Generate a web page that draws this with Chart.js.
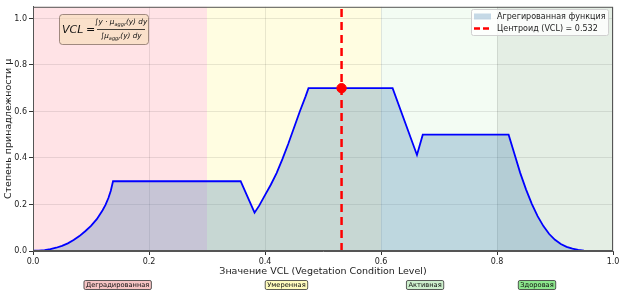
<!DOCTYPE html>
<html>
<head>
<meta charset="utf-8">
<script src="https://cdn.jsdelivr.net/npm/chart.js@4.4.2/dist/chart.umd.min.js"></script>
<style>
  html, body { margin: 0; padding: 0; background: #fff; }
  #wrap { width: 624px; height: 293px; }
</style>
</head>
<body>
<div id="wrap"><canvas id="chart" width="624" height="293"></canvas></div>
<script>
// aggregated membership function
const curveX = [0, 0.01, 0.02, 0.03, 0.04, 0.05, 0.06, 0.07, 0.08, 0.09, 0.10, 0.11, 0.12, 0.125, 0.13, 0.134, 0.138,
  0.358, 0.382, 0.39, 0.40, 0.41, 0.42, 0.43, 0.44, 0.45, 0.46, 0.47, 0.475,
  0.620, 0.662, 0.672, 0.820,
  0.83, 0.84, 0.85, 0.86, 0.87, 0.88, 0.89, 0.90, 0.91, 0.92, 0.93, 0.94, 0.95, 0.97, 1.0];
const curveY = [0.001, 0.002, 0.004, 0.008, 0.014, 0.022, 0.033, 0.047, 0.064, 0.085, 0.108, 0.137, 0.175, 0.198, 0.228, 0.258, 0.30,
  0.30, 0.165, 0.195, 0.24, 0.285, 0.335, 0.395, 0.46, 0.53, 0.60, 0.665, 0.70,
  0.70, 0.413, 0.50, 0.50,
  0.418, 0.336, 0.265, 0.203, 0.15, 0.107, 0.073, 0.048, 0.03, 0.018, 0.01, 0.005, 0.002, 0.0005, 0];

const centroid = 0.532;
const centroidMu = 0.70;

const zoneNames = ['Деградированная', 'Умеренная', 'Активная', 'Здоровая'];
const zoneEdges = [0, 0.3, 0.6, 0.8, 1.0];

const xTicks = [0, 0.2, 0.4, 0.6, 0.8, 1.0];
const yTicks = [0, 0.2, 0.4, 0.6, 0.8, 1.0];

const zoneFill = ['rgb(255,227,230)', 'rgb(255,253,225)', 'rgb(243,252,243)', 'rgb(228,238,228)'];
const zoneTag = ['rgb(246,196,196)', 'rgb(255,252,190)', 'rgb(205,240,205)', 'rgb(140,230,140)'];
const zoneTagX = [0.146, 0.437, 0.676, 0.869];

const FONT = '"DejaVu Sans", sans-serif';

const decorPlugin = {
  id: 'decor',
  beforeDraw(chart) {
    const { ctx, chartArea: a, scales: { x } } = chart;
    ctx.save();
    for (let i = 0; i < zoneNames.length; i++) {
      const x0 = x.getPixelForValue(zoneEdges[i]);
      const x1 = x.getPixelForValue(zoneEdges[i + 1]);
      ctx.fillStyle = zoneFill[i];
      ctx.fillRect(x0, a.top, x1 - x0, a.bottom - a.top);
    }
    ctx.restore();
  },
  afterDraw(chart) {
    const { ctx, chartArea: a, scales: { x } } = chart;
    ctx.save();

    // frame
    ctx.strokeStyle = '#555';
    ctx.lineWidth = 1;
    ctx.strokeRect(a.left + 0.5, a.top + 0.5, a.right - a.left - 1, a.bottom - a.top - 1);

    // formula box
    ctx.beginPath();
    ctx.roundRect(59.5, 14.5, 89, 30, 3);
    ctx.fillStyle = 'rgba(245,222,179,0.55)';
    ctx.fill();
    ctx.strokeStyle = 'rgba(120,100,90,0.7)';
    ctx.stroke();

    ctx.fillStyle = '#111';
    ctx.textBaseline = 'alphabetic';
    ctx.textAlign = 'left';
    ctx.font = 'italic 11px ' + FONT;
    ctx.fillText('VCL', 62, 33);
    ctx.font = '11px ' + FONT;
    ctx.fillText('=', 86, 33);

    const fontOf = p => (p.sub ? 'italic 5px ' : 'italic 7.3px ') + FONT;
    const runs = (parts, x0, y0) => {
      let cx = x0;
      parts.forEach(p => {
        ctx.font = fontOf(p);
        ctx.fillText(p.t, cx, p.sub ? y0 + 2 : y0);
        cx += ctx.measureText(p.t).width;
      });
    };
    const measure = parts => parts.reduce((s, p) => {
      ctx.font = fontOf(p);
      return s + ctx.measureText(p.t).width;
    }, 0);
    const num = [{ t: '∫y · μ' }, { t: 'aggr', sub: true }, { t: '(y) dy' }];
    const den = [{ t: '∫μ' }, { t: 'aggr', sub: true }, { t: '(y) dy' }];
    const fx0 = 97, fx1 = 145, fc = (fx0 + fx1) / 2;
    runs(num, fc - measure(num) / 2, 24);
    runs(den, fc - measure(den) / 2, 38);
    ctx.strokeStyle = '#111';
    ctx.lineWidth = 0.8;
    ctx.beginPath();
    ctx.moveTo(fx0, 29.5);
    ctx.lineTo(fx1, 29.5);
    ctx.stroke();

    // legend
    ctx.beginPath();
    ctx.roundRect(471.5, 9.5, 137, 26, 2);
    ctx.fillStyle = 'rgba(255,255,255,0.8)';
    ctx.fill();
    ctx.strokeStyle = '#d0d0d0';
    ctx.lineWidth = 1;
    ctx.stroke();
    ctx.fillStyle = 'rgba(70,130,180,0.3)';
    ctx.fillRect(474, 13.5, 17, 6);
    ctx.strokeStyle = 'red';
    ctx.lineWidth = 2.5;
    ctx.setLineDash([6, 3]);
    ctx.beginPath();
    ctx.moveTo(474, 28.5);
    ctx.lineTo(491, 28.5);
    ctx.stroke();
    ctx.setLineDash([]);
    ctx.fillStyle = '#222';
    ctx.font = '8px ' + FONT;
    ctx.textBaseline = 'middle';
    ctx.fillText('Агрегированная функция', 497, 17);
    ctx.fillText('Центроид (VCL) = ' + centroid.toFixed(3), 497, 28.5);

    // zone tags under the axis
    ctx.font = '6.7px ' + FONT;
    ctx.textAlign = 'center';
    zoneNames.forEach((name, i) => {
      const cx = x.getPixelForValue(zoneTagX[i]);
      const w = ctx.measureText(name).width + 4;
      ctx.beginPath();
      ctx.roundRect(cx - w / 2, 280.5, w, 9, 1.5);
      ctx.fillStyle = zoneTag[i];
      ctx.fill();
      ctx.strokeStyle = '#333';
      ctx.lineWidth = 0.8;
      ctx.stroke();
      ctx.fillStyle = '#111';
      ctx.fillText(name, cx, 285.2);
    });
    ctx.restore();
  }
};

const tickFont = { family: FONT, size: 8 };
const titleFont = { family: FONT, size: 9.5 };

new Chart(document.getElementById('chart'), {
  type: 'line',
  data: {
    datasets: [
      {
        label: 'point',
        data: [{ x: centroid, y: centroidMu }],
        showLine: false,
        pointRadius: 4.7,
        pointBackgroundColor: 'red',
        pointBorderColor: 'red'
      },
      {
        label: 'Центроид (VCL) = ' + centroid.toFixed(3),
        data: [{ x: centroid, y: 0 }, { x: centroid, y: 1.05 }],
        borderColor: 'red',
        borderWidth: 2.5,
        borderDash: [8, 5],
        pointRadius: 0,
        fill: false
      },
      {
        label: 'Агрегированная функция',
        data: curveX.map((v, i) => ({ x: v, y: curveY[i] })),
        borderColor: '#0000ff',
        borderWidth: 1.8,
        backgroundColor: 'rgba(70,130,180,0.3)',
        fill: 'origin',
        pointRadius: 0,
        tension: 0
      }
    ]
  },
  options: {
    responsive: false,
    animation: false,
    devicePixelRatio: 1,
    layout: { padding: { top: 5, right: 11, left: 0, bottom: 16 } },
    plugins: {
      legend: { display: false },
      tooltip: { enabled: false }
    },
    scales: {
      x: {
        type: 'linear',
        min: 0,
        max: 1,
        afterFit: s => { s.height = 26; },
        afterBuildTicks: s => { s.ticks = xTicks.map(v => ({ value: v })); },
        ticks: { font: tickFont, color: '#222', padding: 2, maxRotation: 0, callback: v => v.toFixed(1) },
        grid: { color: 'rgba(0,0,0,0.09)', tickColor: '#333', tickLength: 4 },
        border: { color: '#555' },
        title: { display: true, text: 'Значение VCL (Vegetation Condition Level)', font: titleFont, color: '#222', padding: { top: 1, bottom: 0 } }
      },
      y: {
        min: 0,
        max: 1.05,
        afterFit: s => { s.width = 33; },
        afterBuildTicks: s => { s.ticks = yTicks.map(v => ({ value: v })); },
        ticks: { font: tickFont, color: '#222', padding: 2, callback: v => v.toFixed(1) },
        grid: { color: 'rgba(0,0,0,0.09)', tickColor: '#333', tickLength: 4 },
        border: { color: '#555' },
        title: { display: true, text: 'Степень принадлежности μ', font: titleFont, color: '#222', padding: { top: 3, bottom: 0 } }
      }
    }
  },
  plugins: [decorPlugin]
});
</script>
</body>
</html>
